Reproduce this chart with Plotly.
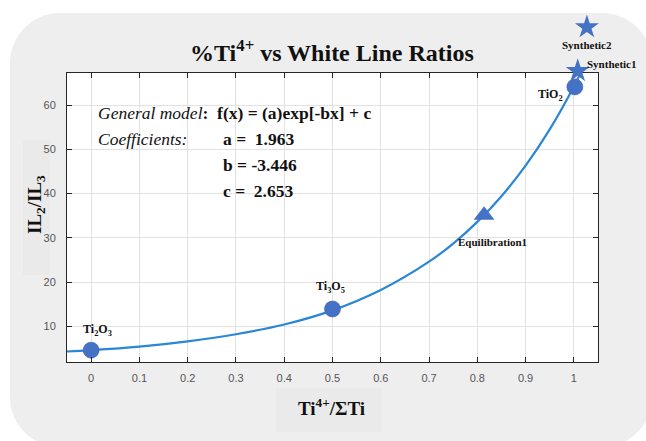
import plotly.graph_objects as go

# ---------------- data ----------------
curve_x = [-0.05, 0.0, 0.1, 0.2, 0.3, 0.4, 0.5, 0.6, 0.7, 0.75, 0.8, 0.85, 0.9, 0.95, 1.0, 1.03]
curve_y = [4.3, 4.6, 5.4, 6.6, 8.2, 10.4, 13.6, 18.2, 24.6, 28.7, 33.6, 39.4, 46.3, 54.5, 64.2, 70.9]

oxide_labels = ['Ti<sub>2</sub>O<sub>3</sub>', 'Ti<sub>3</sub>O<sub>5</sub>', 'TiO<sub>2</sub>']
oxide_x = [0.0, 0.5, 1.002]
oxide_y = [4.6, 13.9, 64.1]

equil_labels = ['Equilibration1']
equil_x = [0.814]
equil_y = [35.1]

synth_labels = ['Synthetic1', 'Synthetic2']
synth_x = [1.008, 1.027]
synth_y = [67.7, 77.6]

x_ticks = [0, 0.1, 0.2, 0.3, 0.4, 0.5, 0.6, 0.7, 0.8, 0.9, 1.0]
x_ticktext = ['0', '0.1', '0.2', '0.3', '0.4', '0.5', '0.6', '0.7', '0.8', '0.9', '1']
y_ticks = [10, 20, 30, 40, 50, 60]
y_ticktext = ['10', '20', '30', '40', '50', '60']

coef_names = ['a', 'b', 'c']
coef_values = [1.963, -3.446, 2.653]

x_range = [-0.05, 1.05]
y_range = [1.93, 67.24]

# ---------------- layout geometry (pixels) ----------------
W, H = 646, 441
L, R, T, B = 67, 598, 73, 362     # main plot box
TOP = 10                           # top of the paper area (room for markers above box)
PW, PH = R - L, B - TOP
main_top = (B - T) / PH            # main y-domain top in paper units
y2_top = y_range[0] + (y_range[1] - y_range[0]) * (B - TOP) / (B - T)


def px(xp):
    return (xp - L) / PW


def py(yp):
    return (B - yp) / PH


def rounded_rect(x0, y0, x1, y1, r):
    k = 0.5523 * r
    pts = []
    pts.append(f"M {px(x0 + r)},{py(y0)}")
    pts.append(f"L {px(x1 - r)},{py(y0)}")
    pts.append(f"C {px(x1 - r + k)},{py(y0)} {px(x1)},{py(y0 + r - k)} {px(x1)},{py(y0 + r)}")
    pts.append(f"L {px(x1)},{py(y1 - r)}")
    pts.append(f"C {px(x1)},{py(y1 - r + k)} {px(x1 - r + k)},{py(y1)} {px(x1 - r)},{py(y1)}")
    pts.append(f"L {px(x0 + r)},{py(y1)}")
    pts.append(f"C {px(x0 + r - k)},{py(y1)} {px(x0)},{py(y1 - r + k)} {px(x0)},{py(y1 - r)}")
    pts.append(f"L {px(x0)},{py(y0 + r)}")
    pts.append(f"C {px(x0)},{py(y0 + r - k)} {px(x0 + r - k)},{py(y0)} {px(x0 + r)},{py(y0)}")
    return " ".join(pts) + " Z"


MARK = '#4472C4'
LINE = '#2A86D6'
SERIF = 'Liberation Serif, Times New Roman, serif'
TICKFONT = 'Liberation Sans Narrow, Arial Narrow, Liberation Sans, Arial, sans-serif'

fig = go.Figure()

fig.add_trace(go.Scatter(
    x=curve_x, y=curve_y, mode='lines',
    line=dict(color=LINE, width=2.2, shape='spline', smoothing=1.0),
    hoverinfo='skip', showlegend=False))

fig.add_trace(go.Scatter(
    x=oxide_x, y=oxide_y, mode='markers', cliponaxis=False,
    marker=dict(symbol='circle', size=16, color=MARK, line=dict(width=0.6, color='#3a62ad')),
    showlegend=False))

fig.add_trace(go.Scatter(
    x=equil_x, y=equil_y, mode='markers', cliponaxis=False,
    marker=dict(symbol='triangle-up', size=18, color=MARK, line=dict(width=0)),
    showlegend=False))

fig.add_trace(go.Scatter(
    x=synth_x, y=synth_y, mode='markers', cliponaxis=False, xaxis='x2', yaxis='y2',
    marker=dict(symbol='star', size=18, color=MARK, line=dict(width=0)),
    showlegend=False))

annotations = []
label_font = dict(family=SERIF, size=11, color='#111111')

# point labels (offsets in pixels)
oxide_shift = [(6, 20), (-2, 22), (-24, -8)]
for lab, xv, yv, (dx, dy) in zip(oxide_labels, oxide_x, oxide_y, oxide_shift):
    annotations.append(dict(x=xv, y=yv, xref='x', yref='y', text=f'<b>{lab}</b>',
                            showarrow=False, xshift=dx, yshift=dy,
                            font=dict(family=SERIF, size=12, color='#111111')))
for lab, xv, yv in zip(equil_labels, equil_x, equil_y):
    annotations.append(dict(x=xv, y=yv, xref='x', yref='y', text=f'<b>{lab}</b>',
                            showarrow=False, xshift=8, yshift=-27, font=label_font))
synth_shift = [(34, 7), (0, -18)]
for lab, xv, yv, (dx, dy) in zip(synth_labels, synth_x, synth_y, synth_shift):
    annotations.append(dict(x=xv, y=yv, xref='x2', yref='y2', text=f'<b>{lab}</b>',
                            showarrow=False, xshift=dx, yshift=dy, font=label_font))

# model text
big = dict(family=SERIF, size=17.5, color='#111111')
annotations.append(dict(x=px(96), y=py(113), xref='paper', yref='paper', xanchor='left', yanchor='middle',
                        text='<i>General model</i><b>:  f(x) = (a)exp[-bx] + c</b>', showarrow=False, font=big))
annotations.append(dict(x=px(96), y=py(139), xref='paper', yref='paper', xanchor='left', yanchor='middle',
                        text='<i>Coefficients:</i>', showarrow=False, font=big))
coef_y = [139, 165, 191]
for nm, val, yy in zip(coef_names, coef_values, coef_y):
    sval = f'{val:.3f}'
    sep = ' =  ' if val >= 0 else ' = '
    annotations.append(dict(x=px(221), y=py(yy), xref='paper', yref='paper', xanchor='left', yanchor='middle',
                            text=f'<b>{nm}{sep}{sval}</b>', showarrow=False, font=big))

# title and axis titles
annotations.append(dict(x=px(332), y=py(51), xref='paper', yref='paper', xanchor='center', yanchor='middle',
                        text='<b>%Ti<sup>4+</sup> vs White Line Ratios</b>', showarrow=False,
                        font=dict(family=SERIF, size=24, color='#111111')))
annotations.append(dict(x=px(331), y=py(407), xref='paper', yref='paper', xanchor='center', yanchor='middle',
                        text='<b>Ti<sup>4+</sup>/ΣTi</b>', showarrow=False,
                        font=dict(family=SERIF, size=19, color='#111111')))
annotations.append(dict(x=px(36), y=py(205), xref='paper', yref='paper', xanchor='center', yanchor='middle',
                        text='<b>IL<sub>2</sub>/IL<sub>3</sub></b>', showarrow=False, textangle=-90,
                        font=dict(family=SERIF, size=19, color='#111111')))

shapes = [
    dict(type='path', xref='paper', yref='paper', layer='below',
         path=rounded_rect(10, 13, 652, 447, 50),
         fillcolor='#eeeeee', line=dict(width=0)),
    dict(type='rect', xref='paper', yref='paper', layer='below',
         x0=px(23), x1=px(50), y0=py(275), y1=py(140),
         fillcolor='#eaeaea', line=dict(width=0)),
    dict(type='rect', xref='paper', yref='paper', layer='below',
         x0=px(276), x1=px(382), y0=py(432), y1=py(388),
         fillcolor='#eaeaea', line=dict(width=0)),
    dict(type='rect', xref='paper', yref='paper', layer='below',
         x0=0, x1=1, y0=0, y1=main_top,
         fillcolor='white', line=dict(width=0)),
]

axis_common = dict(
    showline=True, linecolor='#262626', linewidth=1, mirror='ticks',
    ticks='inside', ticklen=5, tickcolor='#262626', tickwidth=1,
    showgrid=True, gridcolor='#e2e2e2', gridwidth=1, zeroline=False,
    tickfont=dict(family=TICKFONT, size=11, color='#555555'),
)

fig.update_layout(
    width=W, height=H,
    margin=dict(l=L, r=W - R, t=TOP, b=H - B, pad=0),
    paper_bgcolor='white', plot_bgcolor='rgba(0,0,0,0)',
    xaxis=dict(range=x_range, domain=[0, 1], tickvals=x_ticks, ticktext=x_ticktext,
               ticklabelstandoff=6, anchor='y', **axis_common),
    yaxis=dict(range=y_range, domain=[0, main_top], tickvals=y_ticks, ticktext=y_ticktext,
               ticklabelstandoff=8, anchor='x', **axis_common),
    xaxis2=dict(range=x_range, domain=[0, 1], anchor='y2', visible=False, showgrid=False),
    yaxis2=dict(range=[y_range[0], y2_top], domain=[0, 1], anchor='x2', visible=False, showgrid=False),
    annotations=annotations, shapes=shapes, showlegend=False,
)

fig.write_html('out.html', config={'displayModeBar': False},
               post_script="document.body.style.margin='0px';")
